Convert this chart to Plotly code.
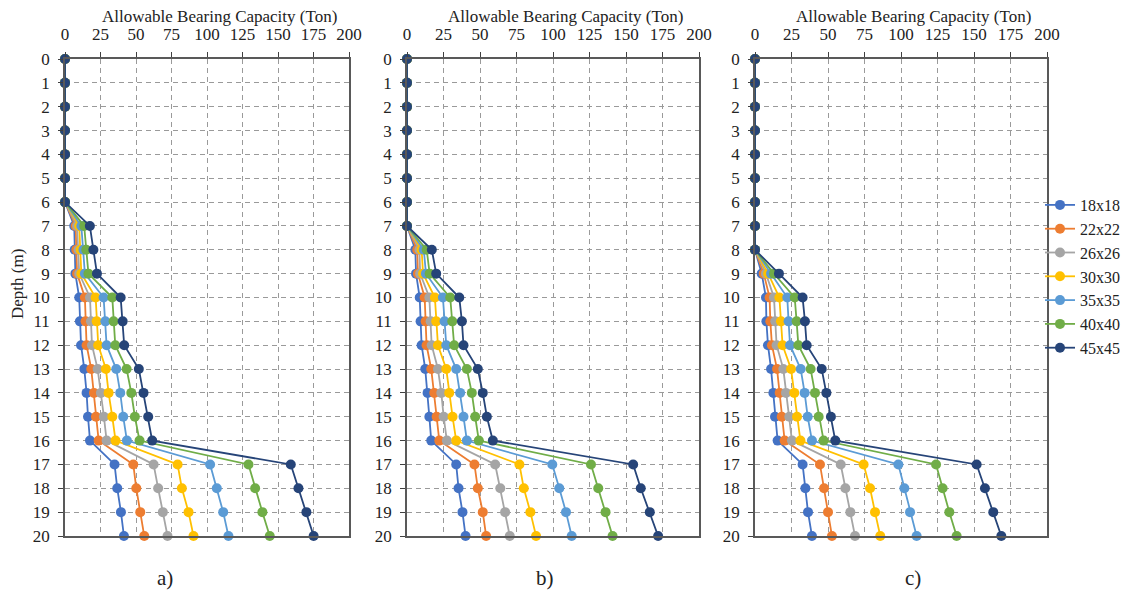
import plotly.graph_objects as go

depths = list(range(0, 21))
sizes = ["18x18", "22x22", "26x26", "30x30", "35x35", "40x40", "45x45"]
colors = ["#4472C4", "#ED7D31", "#A5A5A5", "#FFC000", "#5B9BD5", "#70AD47", "#264478"]

# Panel a) : values for depths 7..20 (0..6 are zero)
a_18 = [0]*7 + [6.5, 6.8, 7.3, 10.0, 10.5, 11.3, 13.6, 15.2, 16.2, 17.6, 34.9, 36.8, 39.4, 41.5]
a_22 = [0]*7 + [7.5, 8.0, 8.5, 14.0, 14.5, 15.2, 18.5, 20.4, 21.8, 23.7, 48.1, 50.2, 53.0, 55.8]
a_26 = [0]*7 + [8.5, 9.5, 10.0, 17.6, 18.3, 19.0, 23.0, 25.3, 27.4, 29.3, 62.4, 65.6, 68.9, 72.2]
a_30 = [0]*7 + [10.0, 11.0, 11.5, 21.6, 22.3, 23.4, 28.8, 30.7, 33.3, 35.6, 79.3, 82.3, 87.0, 90.5]
a_35 = [0]*7 + [11.5, 13.0, 14.0, 27.2, 28.4, 29.3, 36.1, 38.9, 41.0, 43.6, 102.2, 106.9, 111.4, 115.1]
a_40 = [0]*7 + [13.5, 15.0, 16.5, 33.3, 34.2, 35.4, 43.4, 46.7, 49.2, 52.5, 129.2, 133.9, 139.0, 144.2]
a_45 = [0]*7 + [17.5, 20.0, 22.5, 39.2, 40.6, 41.7, 52.0, 55.3, 58.6, 61.4, 159.0, 164.4, 170.0, 175.1]

# Panel b) : depths 0..7 zero
b_18 = [0]*8 + [5.7, 6.2, 8.7, 9.3, 10.0, 12.5, 14.1, 15.3, 16.6, 33.7, 35.3, 38.0, 40.1]
b_22 = [0]*8 + [7.0, 7.5, 12.1, 12.8, 13.4, 16.6, 18.7, 20.3, 22.1, 46.2, 48.5, 51.9, 54.2]
b_26 = [0]*8 + [8.5, 9.0, 15.3, 16.2, 16.9, 21.2, 23.5, 25.1, 27.3, 60.4, 63.9, 67.2, 70.4]
b_30 = [0]*8 + [10.0, 11.0, 19.1, 20.0, 21.2, 26.9, 28.9, 31.2, 33.7, 77.0, 80.0, 84.5, 88.4]
b_35 = [0]*8 + [11.5, 13.0, 24.6, 25.7, 26.9, 33.7, 36.4, 38.7, 41.0, 99.5, 104.3, 108.9, 112.8]
b_40 = [0]*8 + [13.5, 15.5, 29.6, 31.0, 32.3, 41.0, 44.4, 46.7, 49.2, 126.0, 131.0, 136.0, 140.8]
b_45 = [0]*8 + [17.0, 20.0, 35.8, 37.6, 38.7, 48.5, 51.9, 54.7, 58.8, 154.9, 160.1, 166.3, 172.0]

# Panel c) : depths 0..8 zero
c_18 = [0]*9 + [4.6, 7.5, 7.8, 8.9, 11.0, 12.6, 13.7, 15.5, 32.6, 34.5, 36.3, 39.0]
c_22 = [0]*9 + [6.0, 10.0, 10.5, 11.6, 15.1, 16.9, 18.3, 20.3, 44.5, 47.3, 50.0, 52.7]
c_26 = [0]*9 + [7.5, 13.0, 13.9, 14.8, 19.4, 21.2, 23.5, 25.3, 58.7, 61.9, 65.3, 68.5]
c_30 = [0]*9 + [9.0, 16.7, 17.8, 18.9, 24.7, 26.9, 28.8, 31.1, 74.4, 78.8, 82.2, 85.8]
c_35 = [0]*9 + [11.0, 22.1, 23.0, 24.0, 31.3, 34.0, 36.1, 39.0, 98.2, 102.3, 106.2, 110.7]
c_40 = [0]*9 + [13.0, 27.2, 28.5, 29.7, 38.1, 41.1, 43.6, 47.0, 124.0, 128.5, 133.1, 138.1]
c_45 = [0]*9 + [16.4, 32.6, 34.2, 35.4, 45.7, 48.9, 52.0, 55.0, 151.8, 157.5, 163.2, 168.7]

panels = [
    [a_18, a_22, a_26, a_30, a_35, a_40, a_45],
    [b_18, b_22, b_26, b_30, b_35, b_40, b_45],
    [c_18, c_22, c_26, c_30, c_35, c_40, c_45],
]
panel_labels = ["a)", "b)", "c)"]
x_title = "Allowable Bearing Capacity (Ton)"
y_title = "Depth (m)"
x_ticks = [0, 25, 50, 75, 100, 125, 150, 175, 200]

# the page body adds an 8px offset, so the figure is laid out 8px smaller
OFF = 8
W, H = 1132 - OFF, 595 - OFF
FONT = "Liberation Serif"


def fx(px):
    return (px - OFF) / W


def fy(py):
    return 1 - (py - OFF) / H


# page-pixel layout of plot areas
px_x = [(65, 349), (407, 699), (755, 1047)]
px_top, px_bot = 59, 536

fig = go.Figure()
for p, series in enumerate(panels):
    sfx = "" if p == 0 else str(p + 1)
    for i, vals in enumerate(series):
        fig.add_trace(go.Scatter(
            x=vals, y=depths, mode="lines+markers",
            name=sizes[i], legendgroup=sizes[i], showlegend=(p == 2),
            line=dict(color=colors[i], width=1.8),
            marker=dict(color=colors[i], size=10),
            xaxis="x" + sfx, yaxis="y" + sfx, cliponaxis=False,
        ))

layout = dict(
    width=W, height=H, margin=dict(l=0, r=0, t=0, b=0, autoexpand=False),
    paper_bgcolor="white", plot_bgcolor="white",
    font=dict(family=FONT, size=17, color="#222222"),
    showlegend=True,
    legend=dict(x=fx(1040), y=fy(188), xanchor="left", yanchor="top",
                font=dict(family=FONT, size=16, color="#222222"),
                bgcolor="rgba(0,0,0,0)", itemwidth=30, tracegroupgap=0),
)
annotations = []
for p in range(3):
    sfx = "" if p == 0 else str(p + 1)
    x0, x1 = px_x[p]
    common = dict(
        ticks="outside", ticklen=5, tickcolor="#404040",
        showline=True, linecolor="#595959", linewidth=1.5, mirror=True,
        showgrid=True, gridcolor="#9a9a9a", griddash="5px,4px", gridwidth=1,
        zeroline=False, tickfont=dict(family=FONT, size=17),
        ticklabelstandoff=5, automargin=False,
    )
    layout["xaxis" + sfx] = dict(
        domain=[fx(x0), fx(x1)], anchor="y" + sfx, side="top",
        range=[0, 200], tickvals=x_ticks, **common)
    layout["yaxis" + sfx] = dict(
        domain=[fy(px_bot), fy(px_top)], anchor="x" + sfx,
        range=[20, 0], tickvals=depths, **common)
    annotations.append(dict(
        text=x_title, x=fx((x0 + x1) / 2 + 12), y=fy(16),
        xref="paper", yref="paper", showarrow=False,
        font=dict(family=FONT, size=17), xanchor="center", yanchor="middle"))
    annotations.append(dict(
        text=panel_labels[p], x=fx([165, 545, 913][p]), y=fy(578),
        xref="paper", yref="paper", showarrow=False,
        font=dict(family=FONT, size=21), xanchor="center", yanchor="middle"))
annotations.append(dict(
    text=y_title, x=fx(18), y=fy(284), xref="paper", yref="paper",
    showarrow=False, textangle=-90, font=dict(family=FONT, size=17),
    xanchor="center", yanchor="middle"))
layout["annotations"] = annotations
fig.update_layout(**layout)
fig.write_html("out.html")
